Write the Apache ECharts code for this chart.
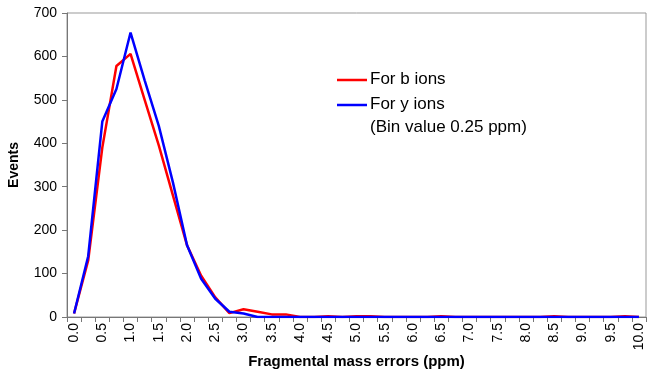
<!DOCTYPE html>
<html><head><meta charset="utf-8">
<script src="https://cdn.jsdelivr.net/npm/echarts@6/dist/echarts.min.js"></script>
<style>html,body{margin:0;padding:0;background:#fff}#c{width:647px;height:380px}</style>
</head><body><div id="c"></div>
<script>
const categories = ['0.0','0.25','0.5','0.75','1.0','1.25','1.5','1.75','2.0','2.25','2.5','2.75','3.0','3.25','3.5','3.75','4.0','4.25','4.5','4.75','5.0','5.25','5.5','5.75','6.0','6.25','6.5','6.75','7.0','7.25','7.5','7.75','8.0','8.25','8.5','8.75','9.0','9.25','9.5','9.75','10.0'];
const bIons = [8,130,390,578,606,500,395,280,165,95,45,9,18,12,6,6,0,0,2,0,2,2,0,0,0,0,2,0,0,0,0,0,0,0,2,0,0,0,0,2,0];
const yIons = [8,140,450,525,655,545,440,310,165,88,42,12,8,0,0,0,0,0,0,0,0,0,0,0,0,0,0,0,0,0,0,0,0,0,0,0,0,0,0,0,0];
const seriesNames = ['For b ions','For y ions'];
const FONT = '"Liberation Sans", Arial, sans-serif';
const chart = echarts.init(document.getElementById('c'));
chart.setOption({
  animation:false,
  textStyle:{fontFamily:FONT},
  grid:{left:67,right:1,top:13,bottom:63,outerBoundsMode:'none',containLabel:false,show:true,borderColor:'#999',borderWidth:1,backgroundColor:'transparent'},
  legend:{show:false},
  xAxis:{
    type:'category', data:categories, boundaryGap:true,
    name:'Fragmental mass errors (ppm)', nameLocation:'middle', nameGap:37, nameMoveOverlap:false,
    nameTextStyle:{fontFamily:FONT,fontSize:15,fontWeight:'bold',color:'#000'},
    axisLine:{lineStyle:{color:'#777',width:1}},
    axisTick:{show:true,interval:0,length:5,lineStyle:{color:'#777'}},
    axisLabel:{interval:1,rotate:90,fontSize:14,color:'#000',fontFamily:FONT,margin:6}
  },
  yAxis:{
    type:'value', min:0, max:700, interval:100,
    name:'Events', nameLocation:'middle', nameGap:46, nameMoveOverlap:false,
    nameTextStyle:{fontFamily:FONT,fontSize:14,fontWeight:'bold',color:'#000'},
    axisLine:{show:true,lineStyle:{color:'#777'}},
    axisTick:{show:true,length:5,lineStyle:{color:'#777'}},
    axisLabel:{fontSize:14,color:'#000',fontFamily:FONT,margin:10},
    splitLine:{show:false}
  },
  series:[
    {name:seriesNames[0],type:'line',data:bIons,symbol:'none',lineStyle:{color:'#ff0000',width:2.5},z:2},
    {name:seriesNames[1],type:'line',data:yIons,symbol:'none',lineStyle:{color:'#0000ff',width:2.5},z:3}
  ],
  graphic:[
    {type:'line',shape:{x1:337,y1:80,x2:367,y2:80},style:{stroke:'#ff0000',lineWidth:2.5}},
    {type:'text',left:370,top:71,style:{text:seriesNames[0],font:'17px '+FONT,fill:'#000'}},
    {type:'line',shape:{x1:337,y1:105,x2:367,y2:105},style:{stroke:'#0000ff',lineWidth:2.5}},
    {type:'text',left:370,top:96,style:{text:seriesNames[1],font:'17px '+FONT,fill:'#000'}},
    {type:'text',left:370,top:119,style:{text:'(Bin value 0.25 ppm)',font:'17px '+FONT,fill:'#000'}}
  ]
});
</script></body></html>
